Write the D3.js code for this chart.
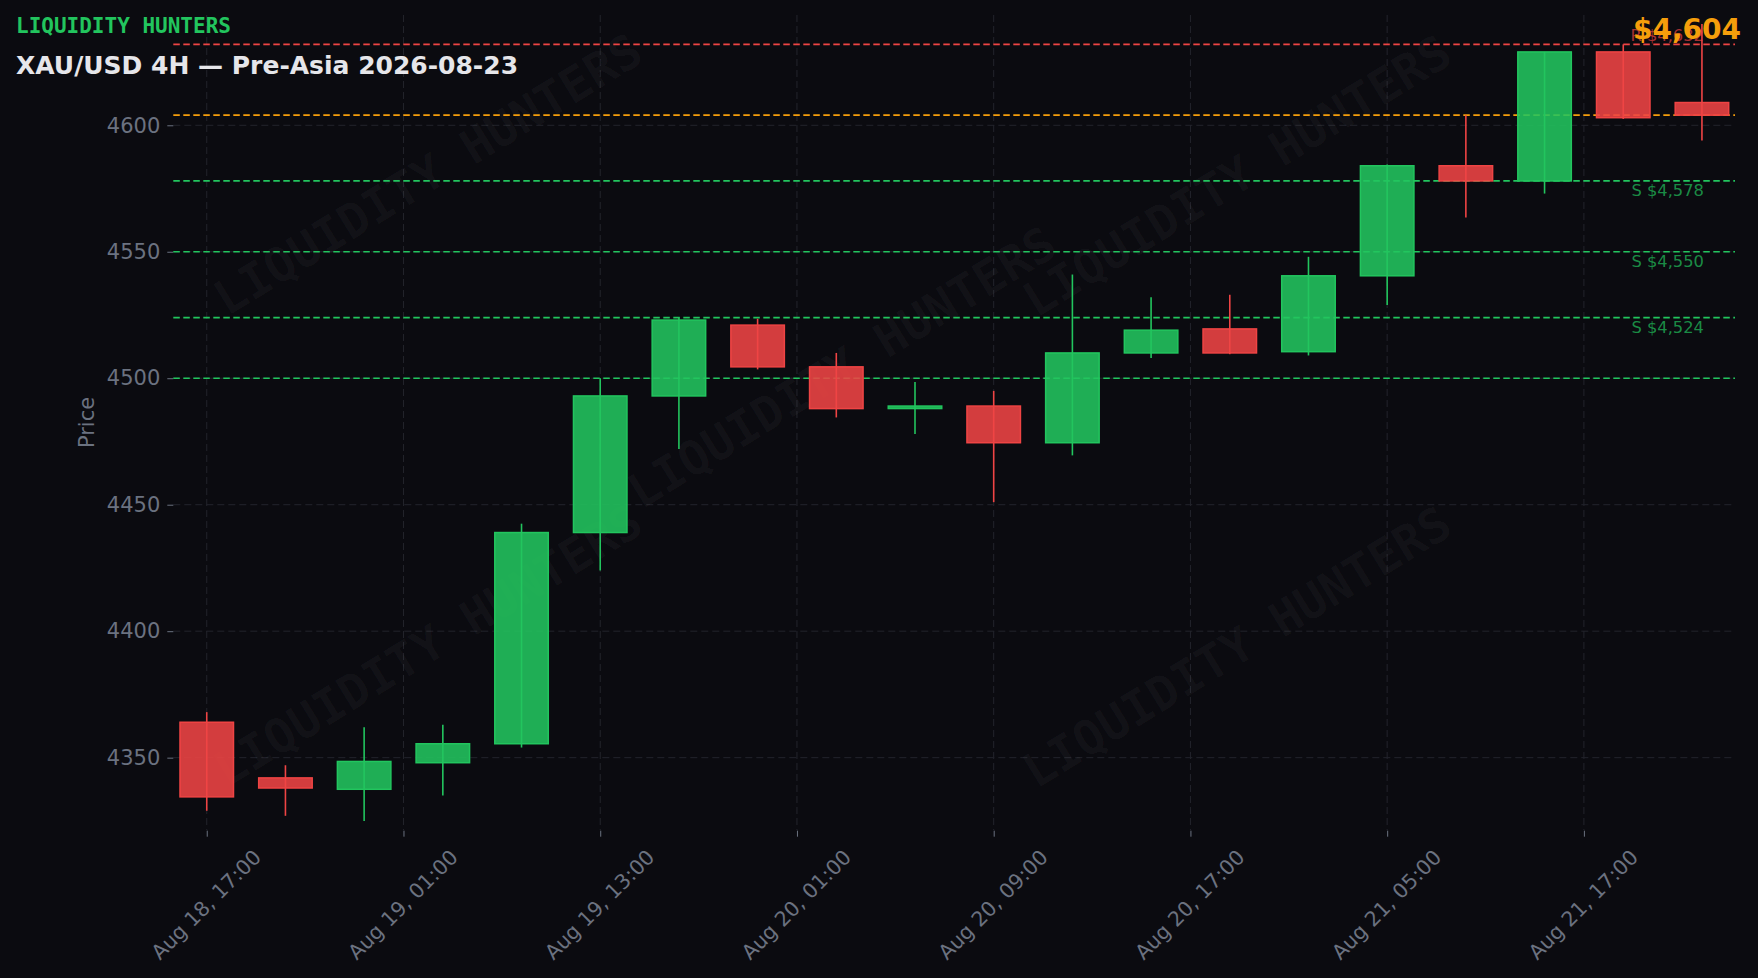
<!DOCTYPE html>
<html>
<head>
<meta charset="utf-8">
<script src="https://cdn.jsdelivr.net/npm/d3@7"></script>
<style>
  html, body { margin: 0; padding: 0; background: #0b0b10; }
  svg { display: block; }
</style>
</head>
<body>
<svg id="chart" width="1758" height="978"></svg>
<script>
// ---------------- DATA ----------------
const candleIndex = [0,1,2,3,4,5,6,7,8,9,10,11,12,13,14,15,16,17,18,19];
const opens  = [4364, 4342, 4337.5, 4348, 4355.5, 4439, 4493, 4521, 4504.5, 4488.5, 4489, 4474.5, 4510, 4519.5, 4510.5, 4540.5, 4584, 4578, 4629, 4609];
const highs  = [4368, 4347, 4362, 4363, 4442.5, 4500, 4524, 4523.5, 4510, 4498.5, 4495, 4541, 4532, 4533, 4548, 4584.5, 4604, 4629, 4632, 4640];
const lows   = [4329, 4327, 4325, 4335, 4354, 4424, 4472, 4503.5, 4484.5, 4478, 4451, 4469.5, 4508, 4509.5, 4509, 4529, 4563.5, 4573, 4602.5, 4594];
const closes = [4334.5, 4338, 4348.5, 4355.5, 4439, 4493, 4523, 4504.5, 4488, 4489, 4474.5, 4510, 4519, 4510, 4540.5, 4584, 4578, 4629, 4603, 4604];

const xTickPositions = [0, 2.5, 5, 7.5, 10, 12.5, 15, 17.5];
const xTickLabels = ["Aug 18, 17:00","Aug 19, 01:00","Aug 19, 13:00","Aug 20, 01:00","Aug 20, 09:00","Aug 20, 17:00","Aug 21, 05:00","Aug 21, 17:00"];
const yTickValues = [4350, 4400, 4450, 4500, 4550, 4600];

const levelValues = [4632, 4604, 4578, 4550, 4524, 4500];
const levelKinds  = ["R", "P", "S", "S", "S", "S"];
const levelLabels = ["R $4,632", "", "S $4,578", "S $4,550", "S $4,524", ""];

const brandText = "LIQUIDITY HUNTERS";
const titleText = "XAU/USD 4H \u2014 Pre-Asia 2026-08-23";
const currentPriceText = "$4,604";
const yAxisTitle = "Price";

// ---------------- LAYOUT ----------------
const W = 1758, H = 978;
const plot = { left: 173.3, right: 1735, top: 15, bottom: 830 };
const colors = {
  bg: "#0b0b10", grid: "#23242c", tick: "#6b7280",
  up: "#22c55e", down: "#ef4444", orange: "#f59e0b",
  title: "#e6e6ea"
};

const svg = d3.select("#chart");
svg.append("rect").attr("width", W).attr("height", H).attr("fill", colors.bg);

const x = d3.scaleLinear().domain([-0.425, 19.42]).range([plot.left, plot.right]);
const y = d3.scaleLinear().domain([4321.4, 4643.6]).range([plot.bottom, plot.top]);

// grid
const grid = svg.append("g");
grid.selectAll("line.hg").data(yTickValues).join("line")
  .attr("x1", plot.left).attr("x2", plot.right)
  .attr("y1", d => y(d)).attr("y2", d => y(d))
  .attr("stroke", colors.grid).attr("stroke-width", 1).attr("stroke-dasharray", "7,4");
grid.selectAll("line.vg").data(xTickPositions).join("line")
  .attr("x1", d => x(d)).attr("x2", d => x(d))
  .attr("y1", plot.top).attr("y2", plot.bottom)
  .attr("stroke", colors.grid).attr("stroke-width", 1).attr("stroke-dasharray", "7,4");

// watermarks (axes-fraction positions)
const wmPos = [[0.163, 0.195], [0.681, 0.197], [0.428, 0.432], [0.163, 0.773], [0.681, 0.775]];
svg.append("g").selectAll("text").data(wmPos).join("text")
  .attr("transform", d => `translate(${plot.left + d[0]*(plot.right-plot.left)},${plot.top + d[1]*(plot.bottom-plot.top)}) rotate(-31.5)`)
  .attr("text-anchor", "middle").attr("dominant-baseline", "central")
  .attr("font-family", "DejaVu Sans Mono").attr("font-weight", "bold").attr("font-size", 48)
  .attr("fill", "rgba(255,255,255,0.035)")
  .text(brandText);

// axes
const yAxis = d3.axisLeft(y).tickValues(yTickValues).tickSize(6).tickPadding(7).tickFormat(d3.format("d"));
const gy = svg.append("g").attr("transform", `translate(${plot.left},0)`).call(yAxis);
gy.select(".domain").remove();
gy.selectAll("line").attr("stroke", colors.tick).attr("stroke-width", 1);
gy.selectAll("text").attr("fill", colors.tick).attr("font-family", "DejaVu Sans").attr("font-size", 21);

const xAxis = d3.axisBottom(x).tickValues(xTickPositions).tickSize(6).tickFormat((d, i) => xTickLabels[i]);
const gx = svg.append("g").attr("transform", `translate(0,${plot.bottom + 0.7})`).call(xAxis);
gx.select(".domain").remove();
gx.selectAll("line").attr("stroke", colors.tick).attr("stroke-width", 1);
gx.selectAll("text")
  .attr("fill", colors.tick).attr("font-family", "DejaVu Sans").attr("font-size", 20.5)
  .attr("text-anchor", "middle").attr("dominant-baseline", "central")
  .attr("y", 0).attr("dy", 0)
  .attr("transform", "translate(-1,74) rotate(-45)");

svg.append("text")
  .attr("transform", `translate(87,${(plot.top+plot.bottom)/2}) rotate(-90)`)
  .attr("text-anchor", "middle").attr("dominant-baseline", "central")
  .attr("font-family", "DejaVu Sans").attr("font-size", 21).attr("fill", colors.tick)
  .text(yAxisTitle);

// level lines
const levelColor = k => k === "R" ? colors.down : (k === "P" ? colors.orange : colors.up);
svg.append("g").selectAll("line").data(levelValues).join("line")
  .attr("x1", plot.left).attr("x2", plot.right)
  .attr("y1", d => y(d)).attr("y2", d => y(d))
  .attr("stroke", (d, i) => levelColor(levelKinds[i]))
  .attr("stroke-width", 1.7).attr("stroke-dasharray", "6.5,3.5");

// candles
const step = x(1) - x(0);
const bodyW = step * 0.68;
const cg = svg.append("g");
cg.selectAll("line.wick").data(candleIndex).join("line")
  .attr("x1", i => x(i)).attr("x2", i => x(i))
  .attr("y1", i => y(highs[i])).attr("y2", i => y(lows[i]))
  .attr("stroke", i => closes[i] >= opens[i] ? colors.up : colors.down)
  .attr("stroke-width", 1.6);
cg.selectAll("rect.body").data(candleIndex).join("rect")
  .attr("x", i => x(i) - bodyW/2)
  .attr("width", bodyW)
  .attr("y", i => y(Math.max(opens[i], closes[i])))
  .attr("height", i => Math.max(2.5, Math.abs(y(opens[i]) - y(closes[i]))))
  .attr("fill", i => closes[i] >= opens[i] ? colors.up : colors.down)
  .attr("fill-opacity", 0.88)
  .attr("stroke", i => closes[i] >= opens[i] ? colors.up : colors.down)
  .attr("stroke-width", 1.5);

// level labels
svg.append("g").selectAll("text").data(levelValues).join("text")
  .attr("x", x(19) + 2)
  .attr("y", (d, i) => levelKinds[i] === "R" ? y(d) - 3 : y(d) + 15.5)
  .attr("text-anchor", "end")
  .attr("font-family", "DejaVu Sans").attr("font-size", 16.3)
  .attr("fill", (d, i) => levelColor(levelKinds[i]))
  .attr("fill-opacity", 0.7)
  .text((d, i) => levelLabels[i]);

// titles
svg.append("text").attr("x", 16).attr("y", 33.3)
  .attr("font-family", "DejaVu Sans Mono").attr("font-weight", "bold").attr("font-size", 21)
  .attr("fill", colors.up).text(brandText);
svg.append("text").attr("x", 16).attr("y", 74)
  .attr("font-family", "DejaVu Sans").attr("font-weight", "bold").attr("font-size", 25)
  .attr("fill", colors.title).text(titleText);
svg.append("text").attr("x", 1741).attr("y", 38.7).attr("text-anchor", "end")
  .attr("font-family", "DejaVu Sans").attr("font-weight", "bold").attr("font-size", 28)
  .attr("fill", colors.orange).text(currentPriceText);
</script>
</body>
</html>
